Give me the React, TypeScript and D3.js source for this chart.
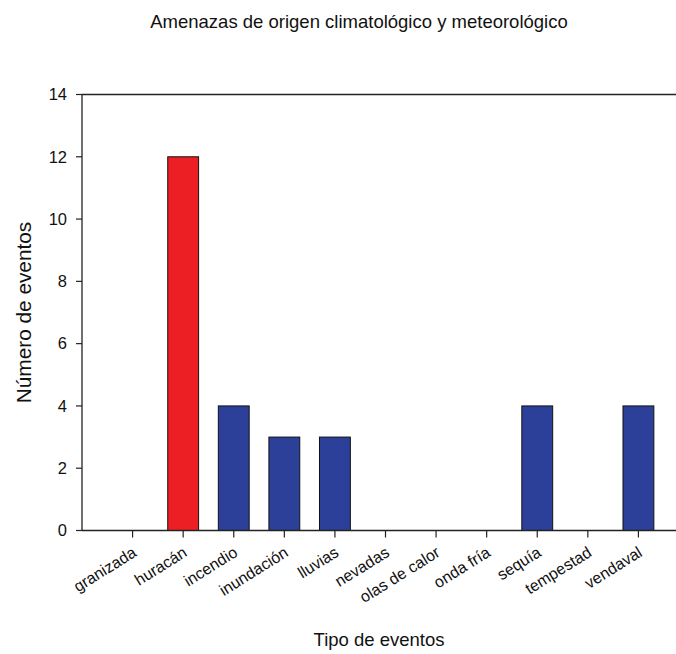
import React from "react";
import * as d3 from "d3";

const categories = ["granizada", "huracán", "incendio", "inundación", "lluvias", "nevadas", "olas de calor", "onda fría", "sequía", "tempestad", "vendaval"];
const values = [0, 12, 4, 3, 3, 0, 0, 0, 4, 0, 4];
const yTicks = [0, 2, 4, 6, 8, 10, 12, 14];
const highlight = "huracán";

const W = 676;
const H = 654;
const left = 82;
const right = 689;
const top = 94.5;
const bottom = 530.5;
const font = "Arial, 'Liberation Sans', sans-serif";

export default function App() {
  const x = d3.scalePoint<string>().domain(categories).range([left, right]).padding(1);
  const y = d3.scaleLinear().domain([0, 14]).range([bottom, top]);
  const bw = x.step() * 0.61;
  return (
    <svg width={W} height={H} style={{ position: "absolute", left: 0, top: 0, background: "#fff" }} fontFamily={font}>
      <text x={359} y={28} textAnchor="middle" fontSize={18.5} fill="#111">Amenazas de origen climatológico y meteorológico</text>
      {categories.map((c, i) =>
        values[i] > 0 ? (
          <rect key={c} x={x(c)! - bw / 2} y={y(values[i])} width={bw} height={y(0) - y(values[i])}
            fill={c === highlight ? "#ec1f25" : "#2c409a"} stroke="#111" strokeWidth={1} />
        ) : null
      )}
      <line x1={left} x2={right} y1={top} y2={top} stroke="#222" strokeWidth={1.3} />
      <line x1={left} x2={right} y1={bottom} y2={bottom} stroke="#222" strokeWidth={1.3} />
      <line x1={left} x2={left} y1={top} y2={bottom} stroke="#222" strokeWidth={1.3} />
      {yTicks.map((t) => (
        <g key={t}>
          <line x1={left - 6} x2={left} y1={y(t)} y2={y(t)} stroke="#222" strokeWidth={1.2} />
          <text x={left - 15} y={y(t)} dy="0.35em" textAnchor="end" fontSize={16.5} fill="#111">{t}</text>
        </g>
      ))}
      {categories.map((c) => (
        <g key={c}>
          <line x1={x(c)} x2={x(c)} y1={bottom} y2={bottom + 7} stroke="#222" strokeWidth={1.2} />
          <text transform={`translate(${x(c)! + 2},${bottom + 20}) rotate(-32)`} textAnchor="end" dy="0.35em" fontSize={16} fill="#111">{c}</text>
        </g>
      ))}
      <text transform={`translate(31,${(top + bottom) / 2}) rotate(-90)`} textAnchor="middle" fontSize={20.8} fill="#111">Número de eventos</text>
      <text x={379} y={646} textAnchor="middle" fontSize={18.5} fill="#111">Tipo de eventos</text>
    </svg>
  );
}
